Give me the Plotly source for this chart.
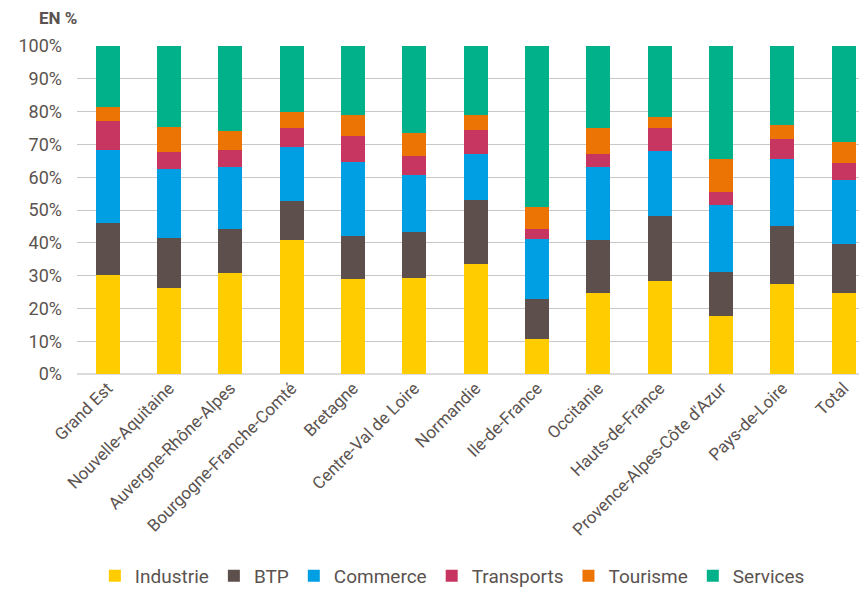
import plotly.graph_objects as go

# Régions (ordre du graphique)
regions = ["Grand Est", "Nouvelle-Aquitaine", "Auvergne-Rhône-Alpes", "Bourgogne-Franche-Comté",
           "Bretagne", "Centre-Val de Loire", "Normandie", "Ile-de-France", "Occitanie",
           "Hauts-de-France", "Provence-Alpes-Côte d'Azur", "Pays-de-Loire", "Total"]

# Parts par secteur, en %
industrie = [30.1, 26.3, 30.8, 40.8, 28.9, 29.3, 33.6, 10.6, 24.6, 28.3, 17.8, 27.5, 24.7]
btp = [16.0, 15.2, 13.3, 11.8, 13.2, 14.0, 19.4, 12.2, 16.4, 19.9, 13.3, 17.6, 14.9]
commerce = [22.2, 20.9, 18.9, 16.5, 22.5, 17.3, 14.0, 18.3, 22.2, 19.9, 20.3, 20.4, 19.4]
transports = [8.7, 5.2, 5.4, 5.9, 8.1, 5.8, 7.5, 3.1, 3.8, 6.8, 4.1, 6.1, 5.3]
tourisme = [4.3, 7.6, 5.7, 4.9, 6.4, 7.0, 4.4, 6.6, 8.1, 3.4, 10.2, 4.3, 6.3]
services = [18.7, 24.8, 25.9, 20.1, 20.9, 26.6, 21.1, 49.2, 24.9, 21.7, 34.3, 24.1, 29.4]

series = [
    ("Industrie", industrie, "#FFCC00"),
    ("BTP", btp, "#5D504C"),
    ("Commerce", commerce, "#009FE3"),
    ("Transports", transports, "#C73661"),
    ("Tourisme", tourisme, "#EC7404"),
    ("Services", services, "#00B189"),
]

font_family = "Roboto, sans-serif"
text_color = "#5b5350"

fig = go.Figure()
for name, values, color in series:
    fig.add_trace(go.Bar(
        x=regions, y=values, name=name,
        marker=dict(color=color, line=dict(width=0)),
        width=0.39,
    ))

fig.update_layout(
    barmode="stack",
    width=859, height=595,
    margin=dict(l=77, r=0, t=46, b=221),
    paper_bgcolor="white",
    plot_bgcolor="white",
    font=dict(family=font_family, color=text_color, size=17),
    showlegend=True,
    legend=dict(
        orientation="h",
        traceorder="normal",
        x=0.48, xanchor="center",
        yref="container",
        y=-0.015, yanchor="bottom",
        font=dict(size=19, color=text_color),
        itemwidth=30,
    ),
    annotations=[dict(
        text="<b>EN %</b>", x=-40 / 782, y=1 + 28 / 328,
        xref="paper", yref="paper",
        showarrow=False, xanchor="left", yanchor="middle",
        font=dict(size=17, color=text_color),
    )],
)

fig.update_xaxes(
    range=[-0.5, 12.25],
    tickangle=-45,
    tickfont=dict(size=17, color=text_color),
    showgrid=False,
    showline=False,
    ticks="",
    automargin=False,
)
fig.update_yaxes(
    range=[0, 100],
    dtick=10,
    ticksuffix="%",
    tickfont=dict(size=18, color=text_color),
    showgrid=True,
    gridcolor="#c8c8c8",
    gridwidth=1,
    zeroline=True,
    zerolinecolor="#dcdcdc",
    zerolinewidth=2,
    ticks="",
    ticklabelstandoff=14,
    automargin=False,
)

# sans marge de page, la figure occupe exactement la fenêtre
fig.write_html("out.html", config={"displayModeBar": False},
               post_script="document.body.style.margin='0';")
